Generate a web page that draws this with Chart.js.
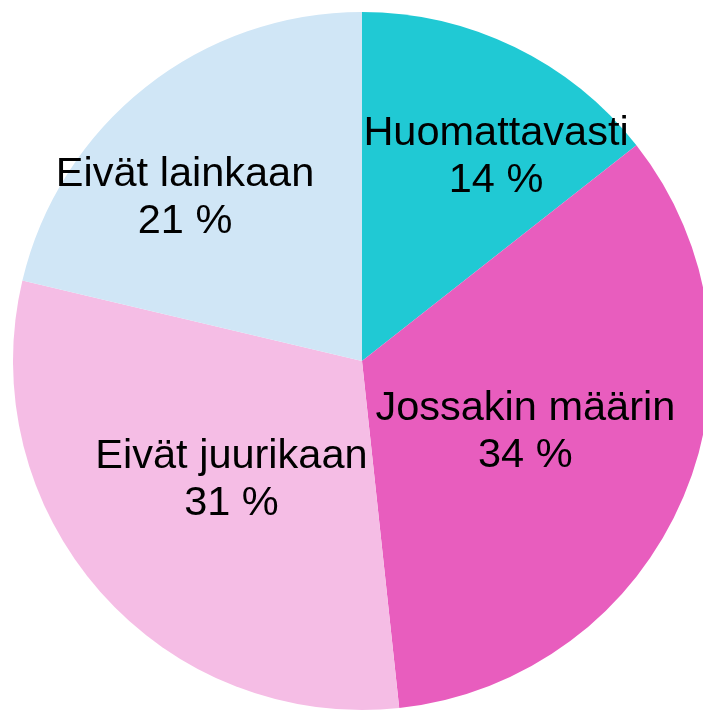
<!DOCTYPE html>
<html lang="fi">
<head>
<meta charset="utf-8">
<title>Piirakka</title>
<script src="https://cdn.jsdelivr.net/npm/chart.js@4/dist/chart.umd.min.js"></script>
<style>
    html, body { margin: 0; padding: 0; background: #fff; overflow: hidden; width: 703px; height: 711px; }
    #chart { display: block; }
</style>
</head>
<body>
<canvas id="chart" width="724" height="722"></canvas>
<script>
// Data
const categories = ['Huomattavasti', 'Jossakin määrin', 'Eivät juurikaan', 'Eivät lainkaan'];
const shares = [14.4, 33.9, 30.4, 21.3];
const shareLabels = ['14 %', '34 %', '31 %', '21 %'];
const colors = ['#20C9D4', '#E85DBE', '#F5BDE5', '#D0E6F6'];

// Label anchors relative to the pie radius (Excel nudges them off the mid-angle)
const labelOffsets = [[0.384, -0.585], [0.468, 0.201], [-0.374, 0.340], [-0.507, -0.467]];

const sliceLabels = {
    id: 'sliceLabels',
    afterDatasetsDraw(chart) {
        const ctx = chart.ctx;
        const meta = chart.getDatasetMeta(0);
        ctx.save();
        ctx.font = '41.5px "Liberation Sans", Arial, sans-serif';
        ctx.fillStyle = '#000';
        ctx.textAlign = 'center';
        ctx.textBaseline = 'middle';
        meta.data.forEach((arc, i) => {
            const r = arc.outerRadius;
            const x = arc.x + labelOffsets[i][0] * r;
            const y = arc.y + labelOffsets[i][1] * r;
            ctx.fillText(categories[i], x, y - 23);
            ctx.fillText(shareLabels[i], x, y + 24);
        });
        ctx.restore();
    }
};

new Chart(document.getElementById('chart'), {
    type: 'pie',
    data: {
        labels: categories,
        datasets: [{
            data: shares,
            backgroundColor: colors,
            borderWidth: 0
        }]
    },
    options: {
        responsive: false,
        animation: false,
        layout: { padding: 12 },
        plugins: {
            legend: { display: false },
            tooltip: { enabled: false }
        }
    },
    plugins: [sliceLabels]
});
</script>
</body>
</html>
